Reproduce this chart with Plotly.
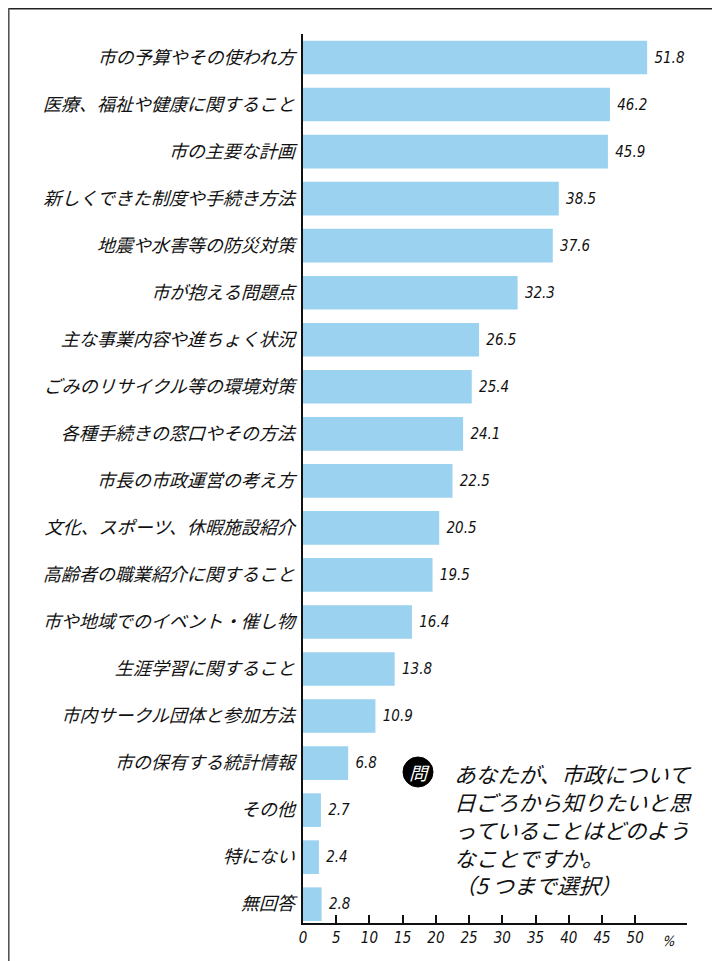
import plotly.graph_objects as go

categories = [
    "市の予算やその使われ方",
    "医療、福祉や健康に関すること",
    "市の主要な計画",
    "新しくできた制度や手続き方法",
    "地震や水害等の防災対策",
    "市が抱える問題点",
    "主な事業内容や進ちょく状況",
    "ごみのリサイクル等の環境対策",
    "各種手続きの窓口やその方法",
    "市長の市政運営の考え方",
    "文化、スポーツ、休暇施設紹介",
    "高齢者の職業紹介に関すること",
    "市や地域でのイベント・催し物",
    "生涯学習に関すること",
    "市内サークル団体と参加方法",
    "市の保有する統計情報",
    "その他",
    "特にない",
    "無回答",
]
values = [51.8, 46.2, 45.9, 38.5, 37.6, 32.3, 26.5, 25.4, 24.1, 22.5,
          20.5, 19.5, 16.4, 13.8, 10.9, 6.8, 2.7, 2.4, 2.8]
tick_values = [0, 5, 10, 15, 20, 25, 30, 35, 40, 45, 50]
tick_labels = ["0", "5", "10", "15", "20", "25", "30", "35", "40", "45", "50"]
unit_label = "%"
question_lines = [
    "あなたが、市政について",
    "日ごろから知りたいと思",
    "っていることはどのよう",
    "なことですか。",
    "（5 つまで選択）",
]
question_mark = "問"

JP = "Noto Sans CJK JP"
NUM = "Liberation Sans Narrow, DejaVu Sans Condensed, Liberation Sans, Arial"

# page has an 8px body margin; figure coords = page coords - 8
OFF = 8
W, H = 712, 953
L, T = 303 - OFF, 34 - OFF
R = W - (687 - OFF)
B = H - (923 - OFF)
pw, ph = W - L - R, H - T - B


def px_x(p):  # page px -> paper x
    return (p - OFF - L) / pw


def px_y(p):  # page px -> paper y
    return (H - B - (p - OFF)) / ph


fig = go.Figure(
    go.Bar(
        x=values,
        y=categories,
        orientation="h",
        marker=dict(color="#9bd2f0", line=dict(width=0)),
        text=values,
        texttemplate=" %{x:.1f}",
        textposition="outside",
        cliponaxis=False,
        textfont=dict(family=NUM, size=15, color="#111", style="italic"),
        hoverinfo="skip",
    )
)

shapes = [
    # page frame (top and left)
    dict(type="line", xref="paper", yref="paper", x0=px_x(8), x1=px_x(730),
         y0=px_y(8.8), y1=px_y(8.8), line=dict(color="#222", width=1.6)),
    dict(type="line", xref="paper", yref="paper", x0=px_x(8.8), x1=px_x(8.8),
         y0=px_y(8), y1=px_y(970), line=dict(color="#555", width=1.6)),
    # question circle
    dict(type="circle", xref="paper", yref="paper", x0=px_x(403), x1=px_x(433),
         y0=px_y(787), y1=px_y(757), fillcolor="#000", line=dict(color="#000", width=1)),
]

annotations = [
    dict(xref="paper", yref="paper", x=px_x(418), y=px_y(772), text=question_mark,
         showarrow=False, xanchor="center", yanchor="middle",
         font=dict(family=JP, size=18, color="white")),
]
line_y = [773, 801, 829, 857, 884]
for txt, yy in zip(question_lines, line_y):
    annotations.append(
        dict(xref="paper", yref="paper", x=px_x(452), y=px_y(yy), text=txt,
             showarrow=False, xanchor="left", yanchor="middle", align="left",
             font=dict(family=JP, size=21.5, color="#111")))
annotations.append(
    dict(x=55, xref="x", yref="paper", y=px_y(941), text=unit_label, showarrow=False,
         xanchor="center", yanchor="middle",
         font=dict(family=NUM, size=14, color="#111")))

fig.update_layout(
    width=W, height=H,
    margin=dict(l=L, r=R, t=T, b=B),
    paper_bgcolor="white", plot_bgcolor="white",
    bargap=0.285,
    showlegend=False,
    shapes=shapes,
    annotations=annotations,
    font=dict(family=JP, color="#111"),
    xaxis=dict(
        range=[0, 57.8],
        tickvals=tick_values, ticktext=tick_labels,
        ticks="inside", ticklen=8, tickcolor="#111", tickwidth=1.5,
        showline=True, linecolor="#111", linewidth=2,
        showgrid=False, zeroline=False,
        tickfont=dict(family=NUM, size=15, color="#111", style="italic"),
    ),
    yaxis=dict(
        type="category",
        range=[18.4, -0.5],
        showline=True, linecolor="#111", linewidth=1.5,
        showgrid=False, zeroline=False, ticks="",
        ticklabelstandoff=3,
        tickfont=dict(family=JP, size=18, color="#111"),
    ),
)

# synthetic slant for Japanese text (CJK fonts get no automatic oblique)
post = """
var gd = document.getElementById('{plot_id}');
function slant(sel, deg) {
  gd.querySelectorAll(sel).forEach(function (t) {
    var x = parseFloat(t.getAttribute('x')) || 0;
    var y = parseFloat(t.getAttribute('y')) || 0;
    var tr = t.getAttribute('transform') || '';
    t.setAttribute('transform', tr + ' translate(' + x + ',' + y + ') skewX(' + deg +
      ') translate(' + (-x) + ',' + (-y) + ')');
  });
}
slant('.ytick text', -16);
slant('text.annotation-text', -16);
"""

fig.write_html("out.html", post_script=post)
